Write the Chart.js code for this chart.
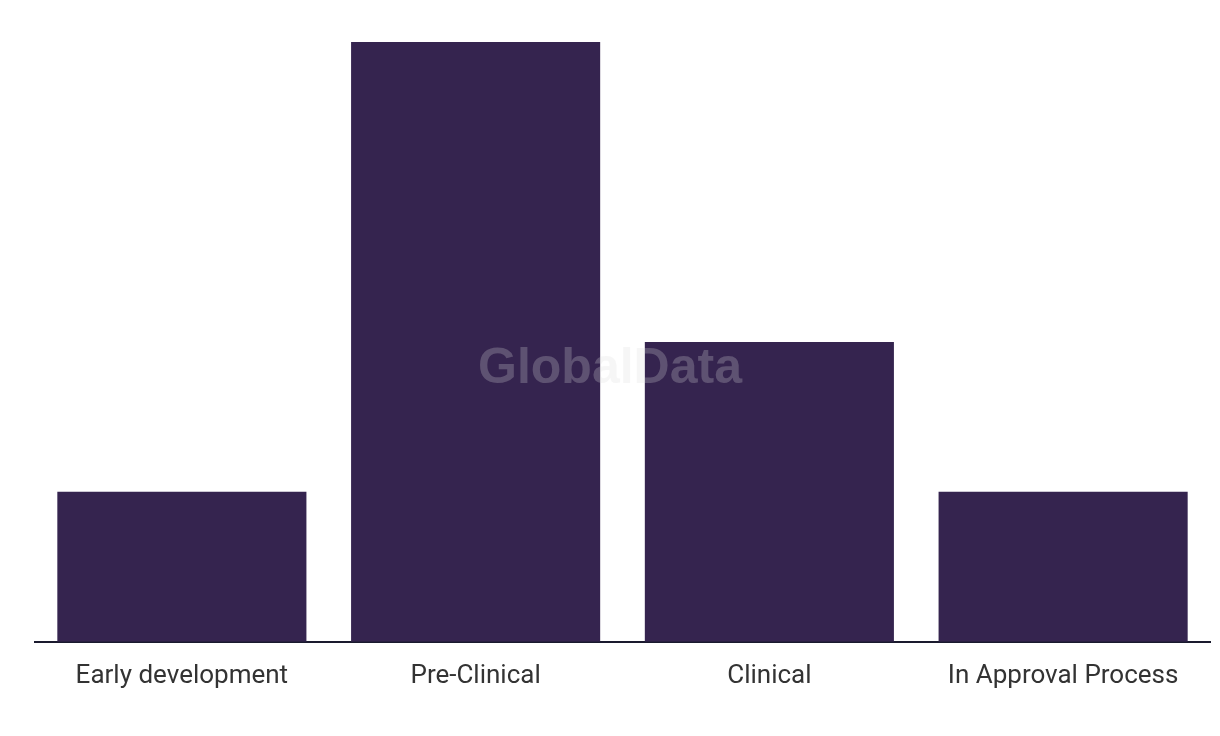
<!DOCTYPE html>
<html lang="en">
<head>
    <meta charset="UTF-8">
    <title>Pipeline by stage</title>
    <script src="https://cdn.jsdelivr.net/npm/chart.js"></script>
    <style>
        html, body { margin: 0; padding: 0; background: #fff; }
        #wrap { width: 1220px; height: 736px; }
    </style>
</head>
<body>
    <div id="wrap"><canvas id="stageChart"></canvas></div>

    <script>
        const stages = ['Early development', 'Pre-Clinical', 'Clinical', 'In Approval Process'];
        const counts = [1, 4, 2, 1];

        const watermark = {
            id: 'watermark',
            afterDraw(chart) {
                const ctx = chart.ctx;
                ctx.save();
                ctx.font = 'bold 50px "Liberation Sans", Arial, sans-serif';
                ctx.fillStyle = 'rgba(220, 220, 220, 0.25)';
                ctx.textAlign = 'center';
                ctx.textBaseline = 'middle';
                ctx.fillText('GlobalData', chart.width / 2, 369);
                ctx.restore();
            }
        };

        new Chart(document.getElementById('stageChart').getContext('2d'), {
            type: 'bar',
            data: {
                labels: stages,
                datasets: [{
                    data: counts,
                    backgroundColor: '#35244f',
                    categoryPercentage: 1,
                    barPercentage: 0.848
                }]
            },
            options: {
                responsive: true,
                maintainAspectRatio: false,
                animation: false,
                layout: { padding: { left: 35, right: 10, top: 42, bottom: 33 } },
                plugins: { legend: { display: false }, tooltip: { enabled: false } },
                scales: {
                    x: {
                        grid: { display: false },
                        border: { color: '#1a1a2e', width: 2 },
                        ticks: {
                            color: '#333',
                            padding: 11,
                            font: { family: 'Roboto, sans-serif', size: 26 }
                        }
                    },
                    y: { display: false, min: 0, max: 4 }
                }
            },
            plugins: [watermark]
        });
    </script>
</body>
</html>
